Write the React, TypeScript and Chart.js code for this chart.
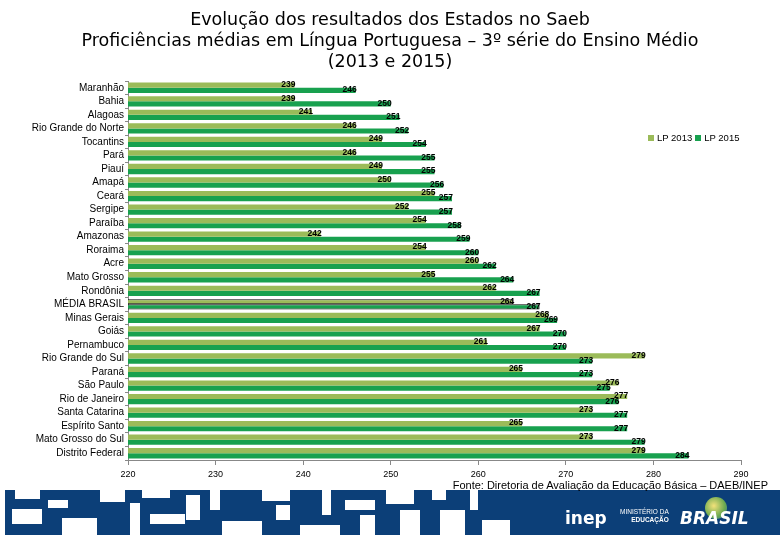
import React, { useEffect, useRef } from "react";
import { Chart, registerables } from "chart.js";

Chart.register(...registerables);

const states = [
  "Maranhão", "Bahia", "Alagoas", "Rio Grande do Norte", "Tocantins", "Pará", "Piauí",
  "Amapá", "Ceará", "Sergipe", "Paraíba", "Amazonas", "Roraima", "Acre", "Mato Grosso",
  "Rondônia", "MÉDIA BRASIL", "Minas Gerais", "Goiás", "Pernambuco", "Rio Grande do Sul",
  "Paraná", "São Paulo", "Rio de Janeiro", "Santa Catarina", "Espírito Santo",
  "Mato Grosso do Sul", "Distrito Federal",
];
const lp2013 = [239, 239, 241, 246, 249, 246, 249, 250, 255, 252, 254, 242, 254, 260, 255, 262, 264, 268, 267, 261, 279, 265, 276, 277, 273, 265, 273, 279];
const lp2015 = [246, 250, 251, 252, 254, 255, 255, 256, 257, 257, 258, 259, 260, 262, 264, 267, 267, 269, 270, 270, 273, 273, 275, 276, 277, 277, 279, 284];
const seriesNames = ["LP 2013", "LP 2015"];
const xMin = 220;
const xMax = 290;
const xStep = 10;
const titleLines = [
  "Evolução dos resultados dos Estados no Saeb",
  "Proficiências médias em Língua Portuguesa – 3º série do Ensino Médio",
  "(2013 e 2015)",
];
const sourceText = "Fonte: Diretoria de Avaliação da Educação Básica – DAEB/INEP";

const C2013 = "#9bbb59";
const C2015 = "#18a14f";

const whiteBlocks: [number, number, number, number][] = [
  [15, 490, 25, 9], [12, 509, 30, 15], [48, 500, 20, 8], [62, 518, 35, 17], [100, 490, 25, 12],
  [130, 503, 10, 32], [142, 490, 28, 8], [150, 514, 35, 10], [186, 495, 14, 25], [210, 490, 10, 20],
  [222, 521, 40, 14], [262, 490, 28, 11], [276, 505, 14, 15], [300, 525, 40, 10], [322, 490, 9, 25],
  [345, 500, 30, 10], [360, 515, 15, 20], [386, 490, 28, 14], [400, 510, 20, 25], [432, 490, 14, 10],
  [440, 510, 25, 25], [482, 520, 28, 15], [470, 490, 8, 20],
];

export default function App() {
  const ref = useRef<HTMLCanvasElement | null>(null);

  useEffect(() => {
    if (!ref.current) return;
    const labelPlugin = {
      id: "barLabels",
      afterDatasetsDraw(chart: any) {
        const ctx = chart.ctx;
        ctx.save();
        ctx.font = "bold 8.5px 'Liberation Sans'";
        ctx.fillStyle = "#000";
        ctx.textAlign = "right";
        ctx.textBaseline = "middle";
        chart.data.datasets.forEach((ds: any, di: number) => {
          const meta = chart.getDatasetMeta(di);
          meta.data.forEach((el: any, i: number) => {
            ctx.fillText(String(ds.data[i]), el.x + 1, el.y - 0.5);
          });
        });
        ctx.restore();
      },
    };

    const chart = new Chart(ref.current, {
      type: "bar",
      data: {
        labels: states,
        datasets: [
          {
            label: seriesNames[0],
            data: lp2013,
            backgroundColor: C2013,
            borderColor: "#000",
            borderWidth: states.map((s) => (s === "MÉDIA BRASIL" ? 1 : 0)),
            borderSkipped: false,
            categoryPercentage: 0.76,
            barPercentage: 1,
          },
          {
            label: seriesNames[1],
            data: lp2015,
            backgroundColor: C2015,
            borderColor: "#000",
            borderWidth: states.map((s) => (s === "MÉDIA BRASIL" ? 1 : 0)),
            borderSkipped: false,
            categoryPercentage: 0.76,
            barPercentage: 1,
          },
        ],
      },
      options: {
        indexAxis: "y",
        animation: false,
        responsive: false,
        maintainAspectRatio: false,
        layout: { padding: { left: 8, right: 39, top: 81, bottom: 58 } },
        plugins: {
          legend: { display: false },
          title: { display: false },
          tooltip: { enabled: false },
        },
        scales: {
          x: {
            type: "linear",
            min: xMin,
            max: xMax,
            ticks: {
              stepSize: xStep,
              color: "#000",
              font: { family: "'Liberation Sans'", size: 9 },
              padding: 4,
            },
            grid: { drawOnChartArea: false, tickLength: 5, color: "#888" },
            border: { color: "#888" },
            afterFit: (s: any) => { s.height = 22; },
          },
          y: {
            type: "category",
            ticks: {
              color: "#000",
              font: { family: "'Liberation Sans'", size: 10 },
              padding: 1,
              autoSkip: false,
            },
            grid: { drawOnChartArea: false, offset: true, tickLength: 3, color: "#888" },
            border: { color: "#888" },
            afterFit: (s: any) => { s.width = 120; },
          },
        },
      },
      plugins: [labelPlugin],
    } as any);
    return () => chart.destroy();
  }, []);

  return (
    <div style={{ position: "absolute", left: 0, top: 0, width: 780, height: 540, background: "#fff", overflow: "hidden" }}>
      <canvas ref={ref} width={780} height={540} style={{ position: "absolute", left: 0, top: 0 }} />
      <div style={{ position: "absolute", left: 0, top: 9, width: 780, textAlign: "center", fontFamily: "'DejaVu Sans'", fontSize: 17.5, lineHeight: "21px", color: "#000" }}>
        {titleLines.map((t, i) => (<div key={i}>{t}</div>))}
      </div>
      <div style={{ position: "absolute", left: 648, top: 132, fontFamily: "'Liberation Sans'", fontSize: 9.5, display: "flex", alignItems: "center", whiteSpace: "nowrap", color: "#000" }}>
        <span style={{ display: "inline-block", width: 6, height: 6, background: C2013, marginRight: 3 }} />
        <span>{seriesNames[0]}</span>
        <span style={{ display: "inline-block", width: 6, height: 6, background: C2015, marginLeft: 3, marginRight: 3 }} />
        <span>{seriesNames[1]}</span>
      </div>
      <div style={{ position: "absolute", left: 5, top: 490, width: 775, height: 45, background: "#0c3f78" }} />
      {whiteBlocks.map(([x, y, w, h], i) => (
        <div key={i} style={{ position: "absolute", left: x, top: y, width: w, height: h, background: "#fff" }} />
      ))}
      <div style={{ position: "absolute", right: 12, top: 479, fontFamily: "'Liberation Sans'", fontSize: 11, color: "#000", whiteSpace: "nowrap" }}>
        {sourceText}
      </div>
      <div style={{ position: "absolute", left: 565, top: 508, fontFamily: "'DejaVu Sans'", fontWeight: "bold", fontSize: 17, color: "#fff", letterSpacing: 0 }}>inep</div>
      <div style={{ position: "absolute", left: 620, top: 508, fontFamily: "'Liberation Sans'", fontSize: 6.5, color: "#fff", lineHeight: "8px", textAlign: "right" }}>
        <div>MINISTÉRIO DA</div>
        <div style={{ fontWeight: "bold" }}>EDUCAÇÃO</div>
      </div>
      <div style={{ position: "absolute", left: 705, top: 497, width: 22, height: 22, borderRadius: 11, background: "radial-gradient(circle at 40% 40%, #f3e27a, #6aa84f 60%, #2a6fb0)" }} />
      <div style={{ position: "absolute", left: 680, top: 508, fontFamily: "'DejaVu Sans'", fontWeight: "bold", fontStyle: "italic", fontSize: 17, color: "#fff" }}>BRASIL</div>
    </div>
  );
}
